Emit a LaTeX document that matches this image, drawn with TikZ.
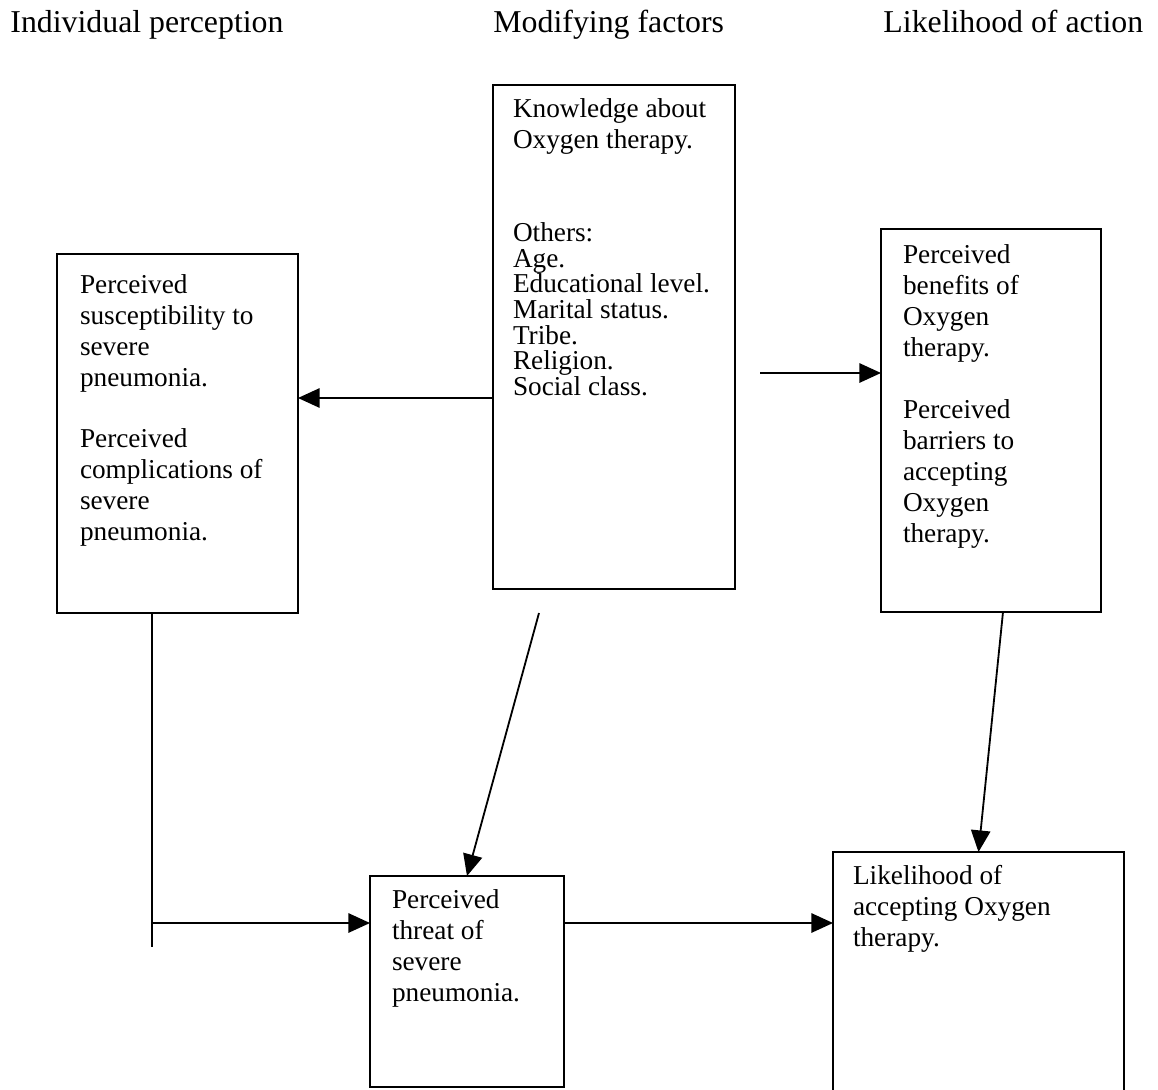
\documentclass[tikz,border=0pt]{standalone}
\usepackage{fontspec}
\setmainfont{Liberation Serif}
\usetikzlibrary{arrows.meta,positioning}
\newdimen\px \px=0.44pt
\tikzstyle{box}=[draw,line width=.8pt,inner sep=0pt,outer sep=0pt,font=\fontsize{12}{13.6}\selectfont]
\tikzstyle{head}=[inner sep=0pt,anchor=base west,font=\fontsize{14}{16}\selectfont]
\tikzstyle{post}=[-{Triangle[length=9.5pt,width=8.5pt]},line width=.8pt]
\newcommand{\boxtext}[4][6pt]{\parbox[c][#2][t]{#3}{\raggedright\vspace*{#1}#4}}

\begin{document}
\begin{tikzpicture}[x=0.44pt,y=-0.44pt]
\useasboundingbox (0,0) rectangle (1158,1090);

\node (perc) [box,anchor=north west,minimum width=241\px] at (57,254)
  {\boxtext[9pt]{359\px}{195\px}{Perceived\\susceptibility to\\severe\\pneumonia.\\[\baselineskip]Perceived\\complications of\\severe\\pneumonia.}};
\node (mod) [box,above right=169\px and 195\px of perc.north east,anchor=north west,minimum width=242\px]
  {\boxtext{504\px}{202\px}{Knowledge about\\Oxygen therapy.\par\vspace{29.6pt}\baselineskip=11.3pt
   Others:\\Age.\\Educational level.\\Marital status.\\Tribe.\\Religion.\\Social class.}};
\node (benef) [box,below right=144\px and 146\px of mod.north east,minimum width=220\px]
  {\boxtext[7pt]{383\px}{176\px}{Perceived\\benefits of\\Oxygen\\therapy.\\[\baselineskip]Perceived\\barriers to\\accepting\\Oxygen\\therapy.}};
\node (threat) [box,below right=263\px and 72\px of perc.south east,minimum width=194\px]
  {\boxtext{211\px}{150\px}{Perceived\\threat of\\severe\\pneumonia.}};
\node (likely) [box,above right=24\px and 269\px of threat.north east,anchor=north west,minimum width=291\px]
  {\boxtext{248\px}{251\px}{Likelihood of\\accepting Oxygen\\therapy.}};

\node (hdperc) [head] at (10,33) {Individual perception};
\node (hdmod) [head] at (mod.north west |- hdperc.base) {Modifying factors};
\node (hdlike) [head,xshift=2\px] at (benef.north west |- hdperc.base) {Likelihood of action};

\coordinate (lvl) at (0,398);
\draw[post] (mod.west |- lvl) -- (perc.east |- lvl);
\coordinate (bstart) at (760,373);
\draw[post] (bstart) -- (bstart -| benef.west);
\coordinate (tstart) at (539,613);
\draw[post] (tstart) -- (threat.north);
\draw[post] ([xshift=12\px]benef.south) -- (likely.north);

\coordinate (lbend) at (152,923);
\coordinate (lbfoot) at (152,947);
\draw[line width=.8pt] (perc.south -| lbend) -- (lbfoot);
\draw[post] (lbend) -- (threat.west |- lbend);
\draw[post] (threat.east |- lbend) -- (likely.west |- lbend);
\end{tikzpicture}
\end{document}
